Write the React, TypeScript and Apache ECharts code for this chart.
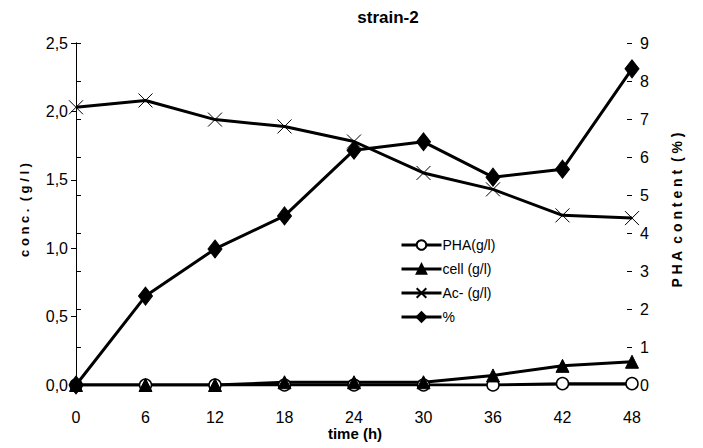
import React, { useEffect, useRef } from "react";
import * as echarts from "echarts";

const times = [0, 6, 12, 18, 24, 30, 36, 42, 48];
const pha = [0, 0, 0, 0, 0, 0, 0, 0.01, 0.01];
const cell = [0, 0, 0, 0.02, 0.02, 0.02, 0.07, 0.14, 0.17];
const acetate = [2.03, 2.08, 1.94, 1.89, 1.78, 1.55, 1.43, 1.24, 1.22];
const percent = [0, 2.34, 3.58, 4.45, 6.18, 6.4, 5.47, 5.68, 8.32];
const leftTicks = [0, 0.5, 1.0, 1.5, 2.0, 2.5];
const rightTicks = [0, 1, 2, 3, 4, 5, 6, 7, 8, 9];

const FONT = "'Liberation Sans Narrow', 'Arial Narrow', 'Liberation Sans', Arial, sans-serif";
const BOLD = "'Liberation Sans', Arial, sans-serif";
const CROSS = "path://M0,0L10,10M10,0L0,10";

export default function App() {
  const ref = useRef<HTMLDivElement>(null);
  useEffect(() => {
    const chart = echarts.init(ref.current!, null, { renderer: "svg" });
    const pair = (arr: number[]) => times.map((t, i) => [t, arr[i]]);
    const base = {
      type: "line",
      lineStyle: { color: "#000", width: 3 },
      itemStyle: { color: "#000", borderColor: "#000", borderWidth: 1 },
      symbolSize: 12,
      z: 3,
    };
    chart.setOption({
      animation: false,
      backgroundColor: "#fff",
      title: {
        text: "strain-2",
        left: 383,
        top: 4,
        textAlign: "center",
        textStyle: { fontFamily: BOLD, fontWeight: "bold", fontSize: 17, color: "#000" },
      },
      grid: { left: 76, right: 71, top: 43, bottom: 63 },
      legend: {
        orient: "vertical",
        left: 395,
        top: 233,
        itemWidth: 40,
        itemHeight: 12,
        itemGap: 10,
        lineStyle: { width: 3, color: "#000" },
        textStyle: { fontFamily: FONT, fontSize: 14, color: "#000", padding: [0, 0, 0, -4] },
        data: ["PHA(g/l)", "cell (g/l)", "Ac- (g/l)", "%"],
      },
      xAxis: [
        {
          type: "value",
          min: 0,
          max: 48,
          interval: 6,
          axisLine: { show: true, lineStyle: { color: "#000", width: 1 } },
          axisTick: { show: false },
          splitLine: { show: false },
          axisLabel: { fontFamily: FONT, fontSize: 16, color: "#000", margin: 24 },
        },
        {
          type: "value",
          position: "top",
          min: 0,
          max: 48,
          axisLine: { show: true, lineStyle: { color: "#888", width: 1 } },
          axisTick: { show: false },
          axisLabel: { show: false },
          splitLine: { show: false },
        },
      ],
      yAxis: [
        {
          type: "value",
          min: leftTicks[0],
          max: leftTicks[leftTicks.length - 1],
          interval: 0.5,
          axisLine: { show: true, lineStyle: { color: "#000", width: 1 } },
          axisTick: { show: true, length: 5, lineStyle: { color: "#000" } },
          splitLine: { show: false },
          axisLabel: {
            fontFamily: FONT,
            fontSize: 16,
            color: "#000",
            margin: 8,
            formatter: (v: number) => v.toFixed(1).replace(".", ","),
          },
        },
        {
          type: "value",
          position: "right",
          min: rightTicks[0],
          max: rightTicks[rightTicks.length - 1],
          interval: 1,
          axisLine: { show: true, lineStyle: { color: "#000", width: 1 } },
          axisTick: { show: true, length: 5, lineStyle: { color: "#000" } },
          splitLine: { show: false },
          axisLabel: { fontFamily: FONT, fontSize: 16, color: "#000", margin: 8 },
        },
        {
          type: "value",
          position: "right",
          min: 0,
          max: 9,
          interval: 1,
          axisLine: { show: false },
          axisTick: { show: true, inside: true, length: 5, lineStyle: { color: "#000" } },
          splitLine: { show: false },
          axisLabel: { show: false },
        },
      ],
      graphic: [
        {
          type: "text",
          x: 24,
          y: 210,
          rotation: Math.PI / 2,
          style: {
            text: "c o n c .  ( g / l )",
            fontFamily: BOLD,
            fontWeight: "bold",
            fontSize: 13,
            fill: "#000",
            align: "center",
            verticalAlign: "middle",
          },
        },
        {
          type: "text",
          x: 677,
          y: 210,
          rotation: Math.PI / 2,
          style: {
            text: "P H A  c o n t e n t  ( % )",
            fontFamily: BOLD,
            fontWeight: "bold",
            fontSize: 14,
            fill: "#000",
            align: "center",
            verticalAlign: "middle",
          },
        },
        {
          type: "text",
          x: 355,
          y: 433,
          style: {
            text: "time (h)",
            fontFamily: FONT,
            fontWeight: "bold",
            fontSize: 15,
            fill: "#000",
            align: "center",
            verticalAlign: "middle",
          },
        },
      ],
      series: [
        {
          ...base,
          name: "PHA(g/l)",
          symbol: "circle",
          symbolSize: 12,
          itemStyle: { color: "#fff", borderColor: "#000", borderWidth: 1.5 },
          data: pair(pha),
        },
        {
          ...base,
          name: "cell (g/l)",
          symbol: "triangle",
          symbolSize: 13,
          data: pair(cell),
        },
        {
          ...base,
          name: "Ac- (g/l)",
          symbol: CROSS,
          symbolSize: 14,
          itemStyle: { color: "#000", borderColor: "#000", borderWidth: 1 },
          data: pair(acetate),
        },
        {
          ...base,
          name: "%",
          yAxisIndex: 1,
          symbol: "diamond",
          symbolSize: [14, 18],
          data: pair(percent),
        },
      ],
    });
    return () => chart.dispose();
  }, []);
  return <div ref={ref} style={{ width: 703, height: 448, position: "absolute", left: 0, top: 0 }} />;
}
